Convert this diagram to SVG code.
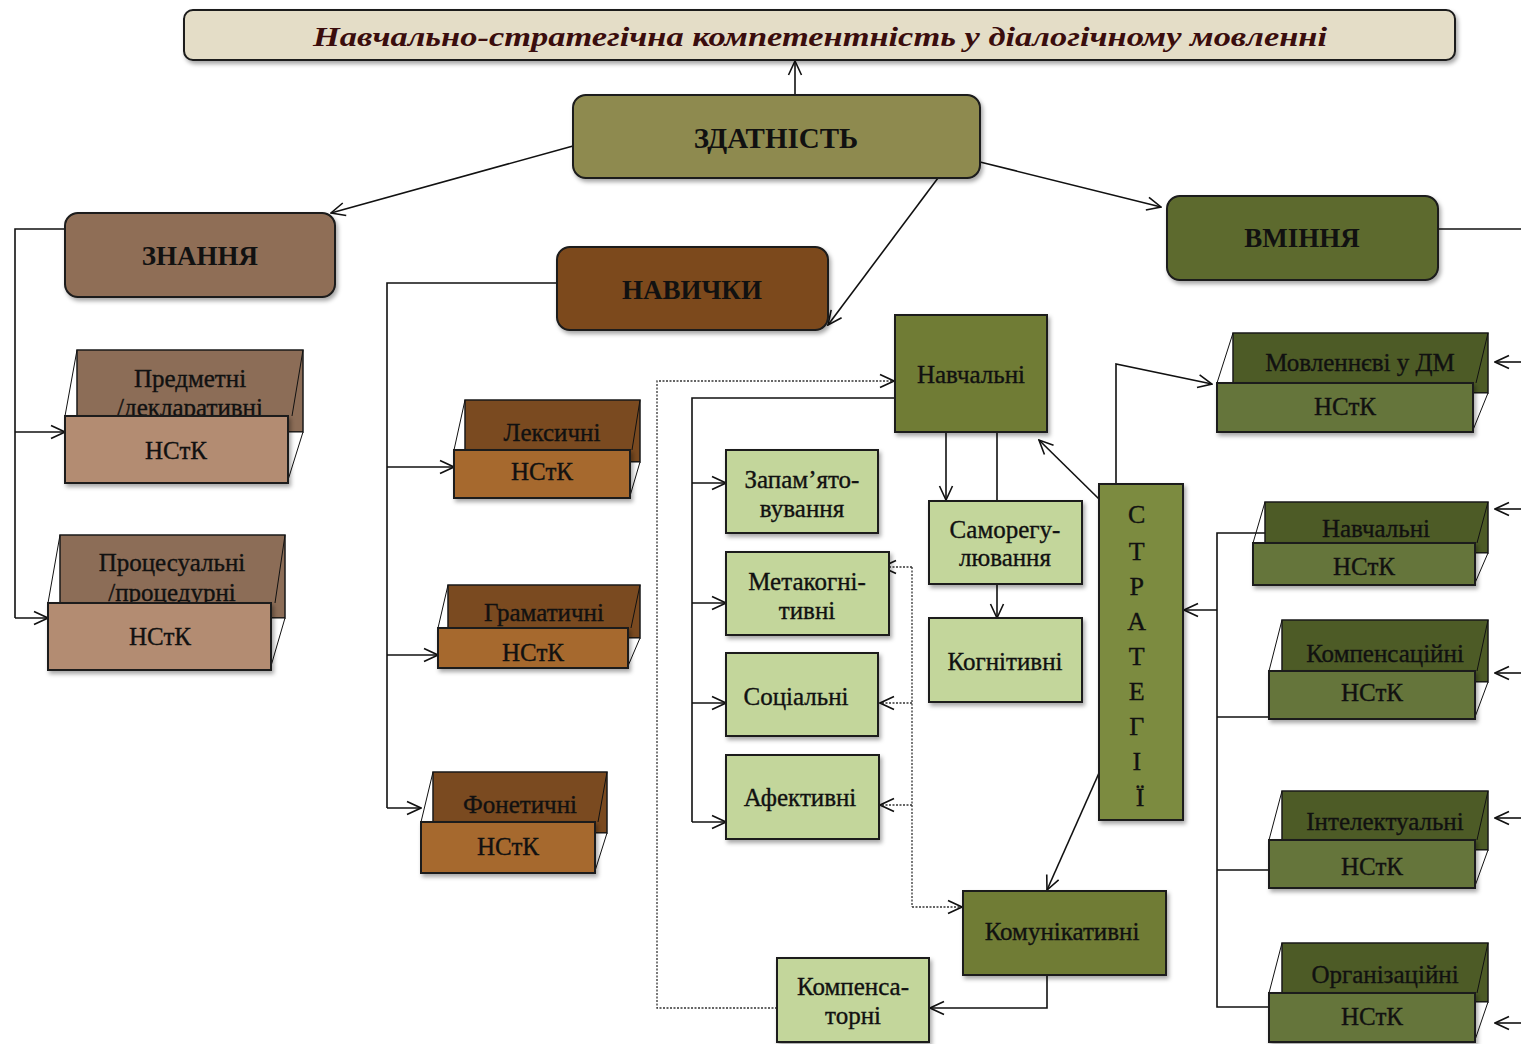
<svg xmlns="http://www.w3.org/2000/svg" width="1521" height="1044" viewBox="0 0 1521 1044">
<defs>
<marker id="ah" viewBox="0 0 16 16" refX="15" refY="8" markerWidth="16" markerHeight="16" markerUnits="userSpaceOnUse" orient="auto">
<path d="M1,1.5 L15,8 L1,14.5" fill="none" stroke="#111" stroke-width="1.6"/>
</marker>
<filter id="sh" x="-10%" y="-10%" width="125%" height="140%">
<feDropShadow dx="2" dy="3" stdDeviation="2" flood-color="#000" flood-opacity="0.35"/>
</filter>
<style>
text{font-family:"Liberation Serif","Times New Roman",serif;fill:#111;text-anchor:middle}
.b{font-weight:bold;font-size:27px}
.n{font-size:25px;stroke:#111;stroke-width:0.35px}
.s{font-size:26px;stroke:#111;stroke-width:0.35px}
.box{stroke:#1a1a1a;stroke-width:2;filter:url(#sh)}
.bk{stroke:#1a1a1a;stroke-width:1.5}
.thin{stroke:#111;stroke-width:1;fill:none}
.tri{fill:#fff;stroke:#111;stroke-width:1}
.l{fill:none;stroke:#111;stroke-width:1.6}
.a{fill:none;stroke:#111;stroke-width:1.6;marker-end:url(#ah)}
.d{fill:none;stroke:#333;stroke-width:1.3;stroke-dasharray:2 1.5}
.da{fill:none;stroke:#333;stroke-width:1.3;stroke-dasharray:2 1.5;marker-end:url(#ah)}
.zb{fill:#8c6d57}.zf{fill:#b38c72}
.nb{fill:#7a4a20}.nf{fill:#a6692e}
.vb{fill:#4d5b26}.vf{fill:#65753a}
.lg{fill:#c3d69b}
.og{fill:#6f7b36}
</style>
</defs>

<g id="connectors">
<path class="a" d="M795,95 V61"/>
<path class="a" d="M573,146 L331,213"/>
<path class="a" d="M938,178 L828,325"/>
<path class="a" d="M980,162 L1161,207"/>
<path class="l" d="M1438,229 H1521"/>
<path class="a" d="M1521,362 H1495"/>
<path class="a" d="M1521,509 H1495"/>
<path class="a" d="M1521,673 H1495"/>
<path class="a" d="M1521,818 H1495"/>
<path class="a" d="M1521,1023 H1495"/>
<path class="l" d="M65,229 H15 V618"/>
<path class="a" d="M15,618 H48"/>
<path class="a" d="M15,432 H65"/>
<path class="l" d="M557,283 H387 V808"/>
<path class="a" d="M387,808 H421"/>
<path class="a" d="M387,467 H454"/>
<path class="a" d="M387,655 H438"/>
<path class="l" d="M895,398 H692 V822"/>
<path class="a" d="M692,483 H726"/>
<path class="a" d="M692,603 H726"/>
<path class="a" d="M692,703 H726"/>
<path class="a" d="M692,822 H726"/>
<path class="da" d="M777,1008 H657 V381 H894"/>
<path class="a" d="M946,432 V500"/>
<path class="l" d="M997,432 V501"/>
<path class="a" d="M997,584 V618"/>
<path class="a" d="M1099,499 L1039,440"/>
<path class="a" d="M1116,484 V364 L1212,384"/>
<path class="a" d="M1099,773 L1047,890"/>
<path class="l" d="M1266,533 H1217 V1007 H1269"/>
<path class="l" d="M1217,717 H1269 M1217,870 H1269"/>
<path class="a" d="M1217,610 H1184"/>
<path class="a" d="M1047,975 V1008 H930"/>
<path class="d" d="M912,567 V907"/>
<path class="da" d="M912,567 H882"/>
<path class="da" d="M912,703 H880"/>
<path class="da" d="M912,805 H880"/>
<path class="da" d="M912,907 H962"/>
</g>

<g id="title">
<rect x="184" y="10" width="1271" height="50" rx="9" fill="#e4ddc7" class="box"/>
<text x="820" y="46" style="font-size:28px;font-style:italic;font-weight:bold;fill:#3a0d0d" textLength="1014" lengthAdjust="spacingAndGlyphs">Навчально-стратегічна компетентність у діалогічному мовленні</text>
</g>

<g id="zdatnist">
<rect x="573" y="95" width="407" height="83" rx="13" fill="#8e8a50" class="box"/>
<text x="776" y="148" class="b" style="font-size:29px">ЗДАТНІСТЬ</text>
</g>

<g id="znannia">
<rect x="65" y="213" width="270" height="84" rx="13" fill="#8f6e56" class="box"/>
<text x="200" y="265" class="b">ЗНАННЯ</text>
</g>

<g id="navychky">
<rect x="557" y="247" width="271" height="83" rx="13" fill="#7c4a1d" class="box"/>
<text x="692" y="299" class="b">НАВИЧКИ</text>
</g>

<g id="vminnia">
<rect x="1167" y="196" width="271" height="84" rx="13" fill="#5d6b2f" class="box"/>
<text x="1302" y="247" class="b">ВМІННЯ</text>
</g>

<g id="predmetni">
<rect x="77" y="350" width="226" height="82" class="bk zb"/>
<line x1="77" y1="350" x2="65" y2="416" class="thin"/>
<line x1="303" y1="350" x2="292" y2="416" class="thin"/>
<text x="190" y="387" class="n">Предметні</text>
<text x="190" y="416" class="n">/декларативні</text>
<polygon points="288,432 303,432 288,480" class="tri"/>
<rect x="65" y="416" width="223" height="67" class="box zf"/>
<text x="176" y="459" class="n">НСтК</text>
</g>

<g id="procesualni">
<rect x="60" y="535" width="225" height="83" class="bk zb"/>
<line x1="60" y1="535" x2="48" y2="603" class="thin"/>
<line x1="285" y1="535" x2="275" y2="603" class="thin"/>
<text x="172" y="571" class="n">Процесуальні</text>
<text x="172" y="601" class="n">/процедурні</text>
<polygon points="271,618 285,618 271,666" class="tri"/>
<rect x="48" y="603" width="223" height="67" class="box zf"/>
<text x="160" y="645" class="n">НСтК</text>
</g>

<g id="leksychni">
<rect x="465" y="400" width="175" height="62" class="bk nb"/>
<line x1="465" y1="400" x2="454" y2="450" class="thin"/>
<line x1="640" y1="400" x2="632" y2="450" class="thin"/>
<text x="552" y="441" class="n">Лексичні</text>
<polygon points="630,462 640,462 630,496" class="tri"/>
<rect x="454" y="450" width="176" height="48" class="box nf"/>
<text x="542" y="480" class="n">НСтК</text>
</g>

<g id="hramatychni">
<rect x="448" y="585" width="192" height="53" class="bk nb"/>
<line x1="448" y1="585" x2="438" y2="628" class="thin"/>
<line x1="640" y1="585" x2="631" y2="628" class="thin"/>
<text x="544" y="621" class="n">Граматичні</text>
<polygon points="628,638 640,638 628,666" class="tri"/>
<rect x="438" y="628" width="190" height="40" class="box nf"/>
<text x="533" y="661" class="n">НСтК</text>
</g>

<g id="fonetychni">
<rect x="433" y="772" width="174" height="61" class="bk nb"/>
<line x1="433" y1="772" x2="421" y2="822" class="thin"/>
<line x1="607" y1="772" x2="598" y2="822" class="thin"/>
<text x="520" y="813" class="n">Фонетичні</text>
<polygon points="595,833 607,833 595,871" class="tri"/>
<rect x="421" y="822" width="174" height="51" class="box nf"/>
<text x="508" y="855" class="n">НСтК</text>
</g>

<g id="navchalni-c">
<rect x="895" y="315" width="152" height="117" class="box og"/>
<text x="971" y="383" class="n">Навчальні</text>
</g>

<g id="zapamiatovuvannia">
<rect x="726" y="450" width="152" height="83" class="box lg"/>
<text x="802" y="488" class="n">Запам’ято-</text>
<text x="802" y="517" class="n">вування</text>
</g>

<g id="metakognityvni">
<rect x="726" y="552" width="163" height="83" class="box lg"/>
<text x="807" y="590" class="n">Метакогні-</text>
<text x="807" y="619" class="n">тивні</text>
</g>

<g id="sotsialni">
<rect x="726" y="653" width="152" height="83" class="box lg"/>
<text x="796" y="705" class="n">Соціальні</text>
</g>

<g id="afektyvni">
<rect x="726" y="755" width="153" height="84" class="box lg"/>
<text x="800" y="806" class="n">Афективні</text>
</g>

<g id="samorehuliuvannia">
<rect x="929" y="501" width="153" height="83" class="box lg"/>
<text x="1005" y="538" class="n">Саморегу-</text>
<text x="1005" y="566" class="n">лювання</text>
</g>

<g id="kohnityvni">
<rect x="929" y="618" width="153" height="84" class="box lg"/>
<text x="1005" y="670" class="n">Когнітивні</text>
</g>

<g id="stratehii">
<rect x="1099" y="484" width="84" height="336" fill="#7b8b3f" class="box"/>
<text class="s">
<tspan x="1140" y="523">С</tspan>
<tspan x="1140" y="560">Т</tspan>
<tspan x="1140" y="595">Р</tspan>
<tspan x="1140" y="630">А</tspan>
<tspan x="1140" y="665">Т</tspan>
<tspan x="1140" y="700">Е</tspan>
<tspan x="1140" y="735">Г</tspan>
<tspan x="1140" y="770">І</tspan>
<tspan x="1140" y="806">Ї</tspan>
</text>
</g>

<g id="komunikatyvni">
<rect x="963" y="891" width="203" height="84" class="box og"/>
<text x="1062" y="940" class="n">Комунікативні</text>
</g>

<g id="kompensatorni">
<rect x="777" y="958" width="152" height="84" class="box lg"/>
<text x="853" y="995" class="n">Компенса-</text>
<text x="853" y="1024" class="n">торні</text>
</g>

<g id="movlennievi">
<rect x="1233" y="333" width="255" height="60" class="bk vb"/>
<line x1="1233" y1="333" x2="1217" y2="383" class="thin"/>
<line x1="1488" y1="333" x2="1476" y2="383" class="thin"/>
<text x="1360" y="371" class="n">Мовленнєві у ДМ</text>
<polygon points="1473,393 1488,393 1473,430" class="tri"/>
<rect x="1217" y="383" width="256" height="49" class="box vf"/>
<text x="1345" y="415" class="n">НСтК</text>
</g>

<g id="navchalni-r">
<rect x="1265" y="502" width="223" height="51" class="bk vb"/>
<line x1="1265" y1="502" x2="1253" y2="543" class="thin"/>
<line x1="1488" y1="502" x2="1477" y2="543" class="thin"/>
<text x="1376" y="537" class="n">Навчальні</text>
<polygon points="1475,553 1488,553 1475,583" class="tri"/>
<rect x="1253" y="543" width="222" height="42" class="box vf"/>
<text x="1364" y="575" class="n">НСтК</text>
</g>

<g id="kompensatsiini">
<rect x="1282" y="620" width="206" height="62" class="bk vb"/>
<line x1="1282" y1="620" x2="1269" y2="671" class="thin"/>
<line x1="1488" y1="620" x2="1477" y2="671" class="thin"/>
<text x="1385" y="662" class="n">Компенсаційні</text>
<polygon points="1475,682 1488,682 1475,717" class="tri"/>
<rect x="1269" y="671" width="206" height="48" class="box vf"/>
<text x="1372" y="701" class="n">НСтК</text>
</g>

<g id="intelektualni">
<rect x="1282" y="791" width="206" height="59" class="bk vb"/>
<line x1="1282" y1="791" x2="1269" y2="840" class="thin"/>
<line x1="1488" y1="791" x2="1477" y2="840" class="thin"/>
<text x="1385" y="830" class="n">Інтелектуальні</text>
<polygon points="1475,850 1488,850 1475,886" class="tri"/>
<rect x="1269" y="840" width="206" height="48" class="box vf"/>
<text x="1372" y="875" class="n">НСтК</text>
</g>

<g id="orhanizatsiini">
<rect x="1282" y="943" width="206" height="59" class="bk vb"/>
<line x1="1282" y1="943" x2="1269" y2="993" class="thin"/>
<line x1="1488" y1="943" x2="1477" y2="993" class="thin"/>
<text x="1385" y="983" class="n">Організаційні</text>
<polygon points="1475,1002 1488,1002 1475,1040" class="tri"/>
<rect x="1269" y="993" width="206" height="49" class="box vf"/>
<text x="1372" y="1025" class="n">НСтК</text>
</g>
</svg>
